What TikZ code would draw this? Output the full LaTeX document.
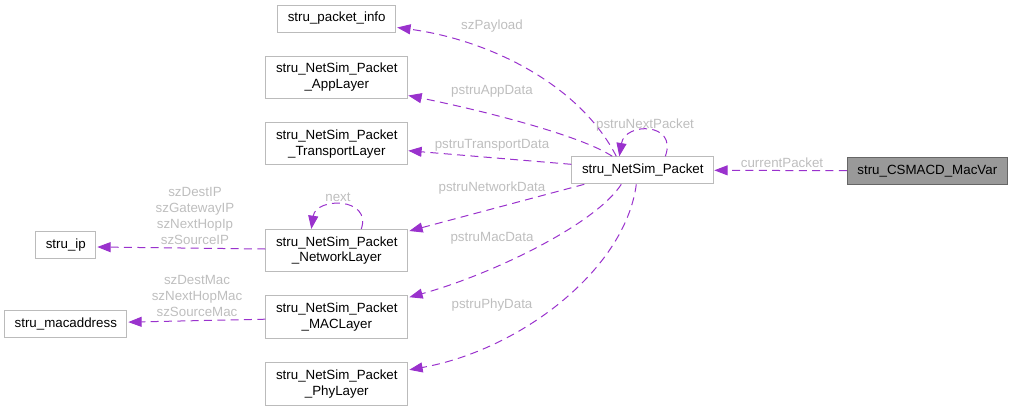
\documentclass[tikz,border=0pt]{standalone}
\usepackage{fontspec}
\setmainfont{Liberation Sans}
\usetikzlibrary{arrows.meta,calc}
\definecolor{edgec}{HTML}{9A32CD}
\definecolor{lblc}{HTML}{BEBEBE}
\definecolor{boxc}{HTML}{BBBBBB}
\definecolor{hlfill}{HTML}{999999}
\definecolor{hldraw}{HTML}{666666}
\newcommand{\fs}{\fontsize{10}{11.8}\selectfont}
\begin{document}
\begin{tikzpicture}[x=0.75pt,y=-0.75pt,
 box/.style={draw=boxc,fill=white,line width=0.75pt,inner sep=0pt,align=center,font=\fs,text=black},
 hl/.style={box,draw=hldraw,fill=hlfill},
 lbl/.style={text=lblc,font=\fs,inner sep=0pt,align=center},
 dep/.style={draw=edgec,line width=0.75pt,dash pattern=on 6pt off 4pt,-{Triangle[length=10pt,width=7.5pt]}}]
\useasboundingbox (0,0) rectangle (1013,411);
% boxes
\node[box,minimum width=88.5pt,minimum height=20.25pt] (pi) at (336.7,18.5) {stru\_packet\_info};
\node[box,minimum width=106.5pt,minimum height=31.5pt] (app) at (336.8,77) {stru\_NetSim\_Packet\\\_AppLayer};
\node[box,minimum width=106.5pt,minimum height=31.5pt] (tr) at (336.8,143.7) {stru\_NetSim\_Packet\\\_TransportLayer};
\node[box,minimum width=106.5pt,minimum height=31.5pt] (net) at (336.8,250.5) {stru\_NetSim\_Packet\\\_NetworkLayer};
\node[box,minimum width=106.5pt,minimum height=32.25pt] (mac) at (336.8,317.2) {stru\_NetSim\_Packet\\\_MACLayer};
\node[box,minimum width=106.5pt,minimum height=32.25pt] (phy) at (336.8,383.8) {stru\_NetSim\_Packet\\\_PhyLayer};
\node[box,minimum width=106.5pt,minimum height=20.25pt] (pkt) at (642.8,170.3) {stru\_NetSim\_Packet};
\node[hl,minimum width=120pt,minimum height=20.25pt] (cs) at (927.3,170.7) {stru\_CSMACD\_MacVar};
\node[box,minimum width=45pt,minimum height=20.25pt] (ip) at (65.8,245) {stru\_ip};
\node[box,minimum width=91.5pt,minimum height=20.25pt] (ma) at (65.8,323.6) {stru\_macaddress};
% edges
\draw[dep] (cs.west) -- (pkt.east);
\draw[dep] ($(pkt.north west)+(45,0)$) .. controls (580,85) and (490,40) .. ($(pi.south east)+(1,-5)$);
\draw[dep] ($(pkt.north west)+(41,0)$) .. controls (580,135) and (480,110) .. ($(app.south east)+(0,-3)$);
\draw[dep] ($(pkt.west)+(0,-6)$) -- ($(tr.east)+(0,7)$);
\draw[dep] ($(pkt.north west)+(94,0)$) .. controls (678,122) and (625,122) .. ($(pkt.north west)+(48,0)$);
\draw[dep] ($(pkt.south west)+(13,0)$) -- ($(net.north east)+(1,2)$);
\draw[dep] ($(pkt.south west)+(50,0)$) .. controls (595,225) and (490,275) .. ($(mac.north east)+(1,2)$);
\draw[dep] ($(pkt.south west)+(65,0)$) .. controls (625,270) and (520,350) .. ($(phy.north east)+(1,8)$);
\draw[dep] ($(net.west)+(0,-1.5)$) -- ($(ip.east)+(1,2)$);
\draw[dep] ($(net.north west)+(96,0)$) .. controls (372,197) and (316,197) .. ($(net.north west)+(46,0)$);
\draw[dep] ($(mac.west)+(0,2)$) -- ($(ma.east)+(1,-1.5)$);
% labels
\node[lbl] (l1) at (782,163) {currentPacket};
\node[lbl] (l2) at (492,26) {szPayload};
\node[lbl] (l3) at (492,91) {pstruAppData};
\node[lbl] (l4) at (492,145) {pstruTransportData};
\node[lbl] (l5) at (645,125) {pstruNextPacket};
\node[lbl] (l6) at (492,188) {pstruNetworkData};
\node[lbl] (l7) at (492,238) {pstruMacData};
\node[lbl] (l8) at (492,305) {pstruPhyData};
\node[lbl] (l9) at (338,197) {next};
\node[lbl] (l10) at (195,216) {szDestIP\\szGatewayIP\\szNextHopIp\\szSourceIP};
\node[lbl] (l11) at (197,296) {szDestMac\\szNextHopMac\\szSourceMac};
\end{tikzpicture}
\end{document}
